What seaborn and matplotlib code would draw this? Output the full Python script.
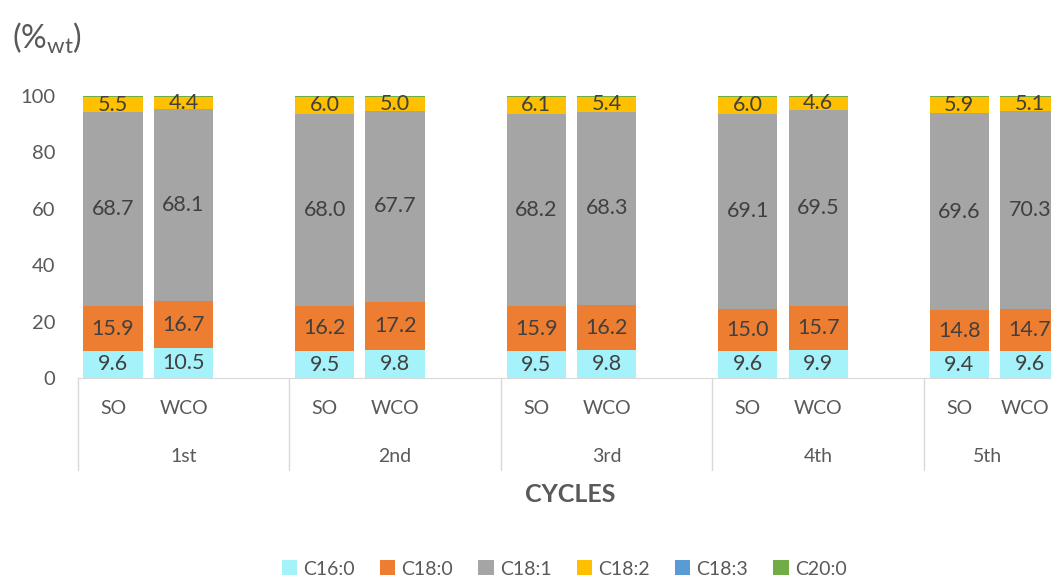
import matplotlib
matplotlib.use("Agg")
import matplotlib.pyplot as plt
import matplotlib.transforms as mtransforms
from matplotlib.patches import Patch
import seaborn as sns
import pandas as pd

# values per bar: 1st SO, 1st WCO, 2nd SO, 2nd WCO, ...
cycles = ["1st", "2nd", "3rd", "4th", "5th"]
oils = ["SO", "WCO"]
acids = ["C16:0", "C18:0", "C18:1", "C18:2", "C18:3", "C20:0"]
c16_0 = [9.6, 10.5, 9.5, 9.8, 9.5, 9.8, 9.6, 9.9, 9.4, 9.6]
c18_0 = [15.9, 16.7, 16.2, 17.2, 15.9, 16.2, 15.0, 15.7, 14.8, 14.7]
c18_1 = [68.7, 68.1, 68.0, 67.7, 68.2, 68.3, 69.1, 69.5, 69.6, 70.3]
c18_2 = [5.5, 4.4, 6.0, 5.0, 6.1, 5.4, 6.0, 4.6, 5.9, 5.1]
c18_3 = [0.1] * 10
c20_0 = [0.2] * 10

colors = ["#A6F2FA", "#ED7D31", "#A5A5A5", "#FFC000", "#5B9BD5", "#70AD47"]
txt = "#595959"

df = pd.DataFrame({"C16:0": c16_0, "C18:0": c18_0, "C18:1": c18_1,
                   "C18:2": c18_2, "C18:3": c18_3, "C20:0": c20_0})
df["cycle"] = [c for c in cycles for _ in oils]
df["oil"] = oils * len(cycles)
# one empty slot after each pair of bars
df["pos"] = [3 * g + i for g in range(len(cycles)) for i in range(len(oils))]
cum = df[acids].cumsum(axis=1)

sns.set_style("white")
plt.rcParams["font.family"] = ["Lato", "DejaVu Sans"]
plt.rcParams["mathtext.fontset"] = "custom"
plt.rcParams["mathtext.rm"] = "Lato"
plt.rcParams["mathtext.it"] = "Lato"

fig = plt.figure(figsize=(10.51, 5.79), dpi=100)
x0 = 77.75 / 1051
ax = fig.add_axes([x0, 201 / 579, 1 - x0, 282 / 579])

# draw totals from the top segment down so each lower one covers the rest
for acid, col in zip(reversed(acids), reversed(colors)):
    sns.barplot(x=df["pos"], y=cum[acid], native_scale=True, color=col,
                saturation=1, width=0.84, errorbar=None, ax=ax, linewidth=0)

for acid in acids[:4]:
    bottom = cum[acid] - df[acid]
    for p, b, v in zip(df["pos"], bottom, df[acid]):
        ax.text(p, b + v / 2, f"{v:.1f}", ha="center", va="center",
                fontsize=15.5, color="#404040")

xmax = 13.3  # chart is cropped on the right, as in the original
ax.set_xlim(-0.5, xmax)
ax.set_ylim(0, 100)
ax.set_yticks(range(0, 101, 20))
ax.set_xticks(df["pos"])
ax.set_xticklabels(df["oil"])
ax.tick_params(axis="y", length=0, pad=16, labelsize=14.5, labelcolor=txt)
ax.tick_params(axis="x", length=0, pad=16, labelsize=14, labelcolor=txt)
# nudge the last label in so it stays inside the picture
last = ax.get_xticklabels()[-1]
last.set_transform(last.get_transform() +
                   mtransforms.ScaledTranslation(-5 / 100, 0, fig.dpi_scale_trans))
ax.set_xlabel("")
ax.set_ylabel("")
for s in ["left", "right", "top"]:
    ax.spines[s].set_visible(False)
ax.spines["bottom"].set_color("#D9D9D9")
ax.grid(False)

# second level of the category axis, labels centred in the visible span
trans = ax.get_xaxis_transform()
for g, c in enumerate(cycles):
    lo, hi = 3 * g - 0.5, min(3 * g + 2.5, xmax)
    ax.text((lo + hi) / 2, -0.277, c, transform=trans, ha="center", va="center",
            fontsize=14, color=txt)
    ax.plot([lo, lo], [0, -0.326], transform=trans, color="#D9D9D9",
            lw=1, clip_on=False)

fig.text(570 / 1051, 1 - 495 / 579, "CYCLES", ha="center", va="center",
         fontsize=18, fontweight="bold", color=txt)
fig.text(12 / 1051, 1 - 38 / 579, r"(%$_{\mathrm{wt}}$)", ha="left", va="center",
         fontsize=23, color=txt)

handles = [Patch(facecolor=c, edgecolor="none", label=a) for a, c in zip(acids, colors)]
fig.legend(handles=handles, loc="center", ncol=6, frameon=False,
           bbox_to_anchor=(564 / 1051, 1 - 569 / 579), fontsize=14,
           handlelength=0.8, handleheight=0.8, handletextpad=0.3,
           columnspacing=1.3, labelcolor=txt)

fig.savefig("out.png", dpi=100)
